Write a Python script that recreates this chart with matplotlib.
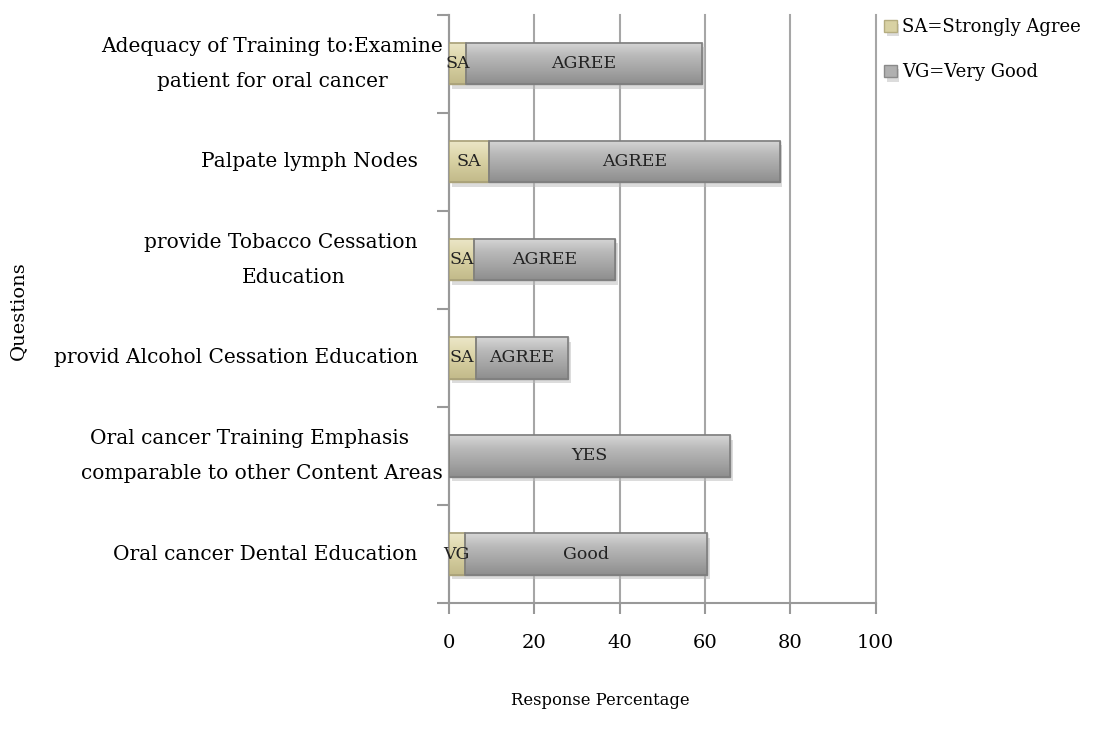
import matplotlib
matplotlib.use("Agg")
import matplotlib.pyplot as plt
import matplotlib.patheffects as pe
from matplotlib.colors import LinearSegmentedColormap
import numpy as np

categories = [
    "Adequacy of Training to:Examine\npatient for oral cancer",
    "Palpate lymph Nodes    ",
    "provide Tobacco Cessation    \nEducation",
    "provid Alcohol Cessation Education    ",
    "Oral cancer Training Emphasis    \ncomparable to other Content Areas",
    "Oral cancer Dental Education    ",
]
first_values = [4.0, 9.5, 6.0, 6.3, 0.0, 3.7]
second_values = [55.3, 68.0, 33.0, 21.6, 66.0, 56.9]
first_labels = ["SA", "SA", "SA", "SA", "", "VG"]
second_labels = ["AGREE", "AGREE", "AGREE", "AGREE", "YES", "Good"]
legend_labels = ["SA=Strongly Agree", "VG=Very Good"]
xticks = [0, 20, 40, 60, 80, 100]

FONT = "DejaVu Serif"
plt.rcParams['font.family'] = [FONT]

fig = plt.figure(figsize=(11, 7.39), dpi=100)
ax = fig.add_axes([0.408, 0.184, 0.388, 0.796])

y = np.arange(len(categories))
h = 0.42
shadow = [pe.SimplePatchShadow(offset=(2, -3), shadow_rgbFace='#bbbbbb', alpha=0.5), pe.Normal()]
b1 = ax.barh(y, first_values, height=h, color='#d8d1a3', edgecolor='#b5ad80', linewidth=1,
             label=legend_labels[0], zorder=3, path_effects=shadow)
b2 = ax.barh(y, second_values, left=first_values, height=h, color='#b0b0b0', edgecolor='#8a8a8a',
             linewidth=1, label=legend_labels[1], zorder=3, path_effects=shadow)

cm_sa = LinearSegmentedColormap.from_list('sa', ['#ece7c8', '#d8d1a3', '#c2ba8a'])
cm_gr = LinearSegmentedColormap.from_list('gr', ['#d6d6d6', '#b8b8b8', '#a4a4a4', '#8e8e8e'])
grad = np.linspace(0, 1, 64).reshape(-1, 1)
for bars, cm in ((b1, cm_sa), (b2, cm_gr)):
    for p in bars:
        if p.get_width() <= 0:
            continue
        x0, w = p.get_x(), p.get_width()
        y0, hh = p.get_y(), p.get_height()
        im = ax.imshow(grad, cmap=cm, aspect='auto', origin='upper',
                       extent=(x0, x0 + w, y0 + hh, y0), zorder=3.2, interpolation='bilinear')
        im.set_clip_path(p)
ax.barh(y, first_values, height=h, fill=False, edgecolor='#a8a078', linewidth=1.2, zorder=3.4)
ax.barh(y, second_values, left=first_values, height=h, fill=False, edgecolor='#7e7e7e',
        linewidth=1.2, zorder=3.4)

for i in range(len(categories)):
    if first_labels[i]:
        ax.text(first_values[i] / 2, y[i], first_labels[i], ha='center', va='center',
                fontsize=12.5, color='#222222', zorder=5)
    ax.text(first_values[i] + second_values[i] / 2, y[i], second_labels[i], ha='center',
            va='center', fontsize=12.5, color='#222222', zorder=5)

ax.set_xlim(0, 100)
ax.set_ylim(len(categories) - 0.5, -0.5)
ax.set_xticks(xticks)
ax.set_xticklabels([str(v) for v in xticks], fontsize=14)
ax.set_yticks(y)
ax.set_yticklabels(categories, fontsize=14.5, multialignment='center', linespacing=2.05,
                   va='center')
ax.set_yticks(np.arange(-0.5, len(categories), 1.0), minor=True)
ax.tick_params(axis='y', which='major', length=0, pad=4)
ax.tick_params(axis='y', which='minor', length=9, color='#999999', width=1.5)
ax.tick_params(axis='x', which='major', length=8, color='#999999', width=1.5, pad=14)

ax.grid(axis='x', color='#a6a6a6', linewidth=1.5, zorder=0)
for gl in ax.get_xgridlines():
    gl.set_clip_on(False)
ax.set_axisbelow(True)
for s in ['top', 'right']:
    ax.spines[s].set_visible(False)
for s in ['left', 'bottom']:
    ax.spines[s].set_color('#999999')
    ax.spines[s].set_linewidth(1.5)

fig.text(0.546, 0.052, "Response Percentage", ha='center', va='center', fontsize=11.8)
fig.text(0.016, 0.58, "Questions", ha='center', va='center', rotation=90, fontsize=14)

ax.legend(loc='upper left', bbox_to_anchor=(0.797, 0.985), bbox_transform=fig.transFigure,
          frameon=False, fontsize=13, handlelength=0.7, handleheight=0.7,
          handletextpad=0.3, labelspacing=1.5, borderaxespad=0)

fig.savefig("out.png", dpi=100)
